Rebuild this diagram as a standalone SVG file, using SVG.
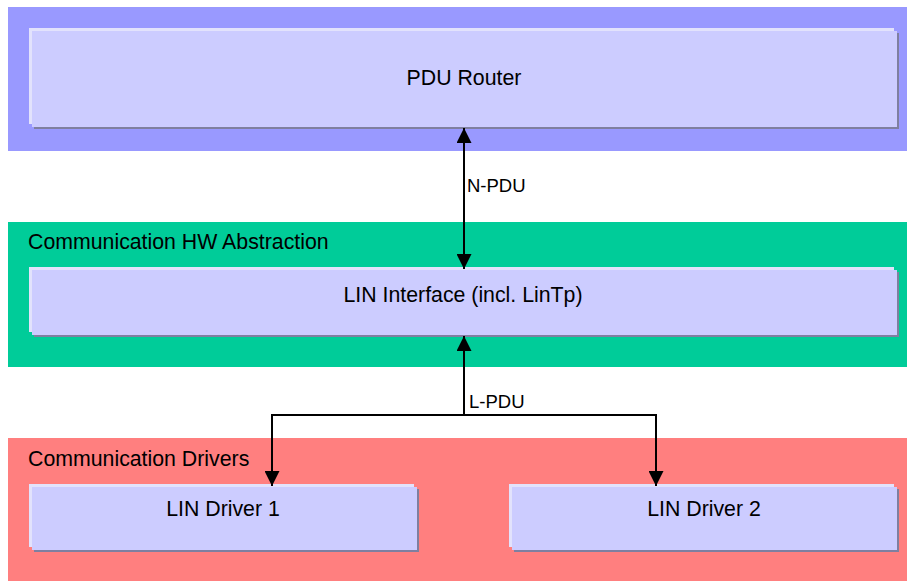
<svg xmlns="http://www.w3.org/2000/svg" width="907" height="581" viewBox="0 0 907 581">
<defs>
<style>
.sh{fill:#7f7fa0}
.hl{fill:#e2e2fc}
.bx{fill:#ccccff}
.t{font-family:"Liberation Sans",Arial,sans-serif;font-size:21.3px;fill:#000}
.lb{font-family:"Liberation Sans",Arial,sans-serif;font-size:18.5px;fill:#000}
.c{fill:none;stroke:#000;stroke-width:2}
</style>
<marker id="ah" viewBox="0 0 15 15" refX="15" refY="7.5" markerWidth="15" markerHeight="15" markerUnits="userSpaceOnUse" orient="auto-start-reverse">
<path d="M0,0 L15,7.5 L0,15 Z" fill="#000"/>
</marker>
</defs>
<rect width="907" height="581" fill="#fff"/>
<g id="layer-services">
<rect x="8" y="7" width="899" height="144" fill="#9999ff"/>
</g>
<g id="layer-hw-abstraction">
<rect x="8" y="222" width="899" height="145" fill="#00cc99"/>
<text class="t" x="28" y="249">Communication HW Abstraction</text>
</g>
<g id="layer-drivers">
<rect x="8" y="438" width="899" height="143" fill="#ff7f7f"/>
<text class="t" x="28" y="466">Communication Drivers</text>
</g>
<g id="pdu-router">
<rect class="sh" x="34" y="33" width="865" height="96"/>
<rect class="hl" x="29" y="28" width="865" height="96"/>
<rect class="bx" x="32" y="31" width="865" height="96"/>
<text class="t" x="464" y="85" text-anchor="middle">PDU Router</text>
</g>
<g id="lin-interface">
<rect class="sh" x="34" y="272" width="865" height="65"/>
<rect class="hl" x="29" y="267" width="865" height="65"/>
<rect class="bx" x="32" y="270" width="865" height="65"/>
<text class="t" x="463" y="302" text-anchor="middle">LIN Interface (incl. LinTp)</text>
</g>
<g id="lin-driver-1">
<rect class="sh" x="34" y="489" width="385" height="63"/>
<rect class="hl" x="29" y="484" width="385" height="63"/>
<rect class="bx" x="32" y="487" width="385" height="63"/>
<text class="t" x="223" y="516" text-anchor="middle">LIN Driver 1</text>
</g>
<g id="lin-driver-2">
<rect class="sh" x="514" y="489" width="385" height="63"/>
<rect class="hl" x="509" y="484" width="385" height="63"/>
<rect class="bx" x="512" y="487" width="385" height="63"/>
<text class="t" x="704" y="516" text-anchor="middle">LIN Driver 2</text>
</g>
<g id="connectors">
<path class="c" d="M464,128 L464,269" marker-start="url(#ah)" marker-end="url(#ah)"/>
<text class="lb" x="467" y="192">N-PDU</text>
<path class="c" d="M464,415 L464,336" marker-end="url(#ah)"/>
<path class="c" d="M464,415 L272,415 L272,486" marker-end="url(#ah)"/>
<path class="c" d="M464,415 L656,415 L656,486" marker-end="url(#ah)"/>
<text class="lb" x="469" y="408">L-PDU</text>
</g>
</svg>
